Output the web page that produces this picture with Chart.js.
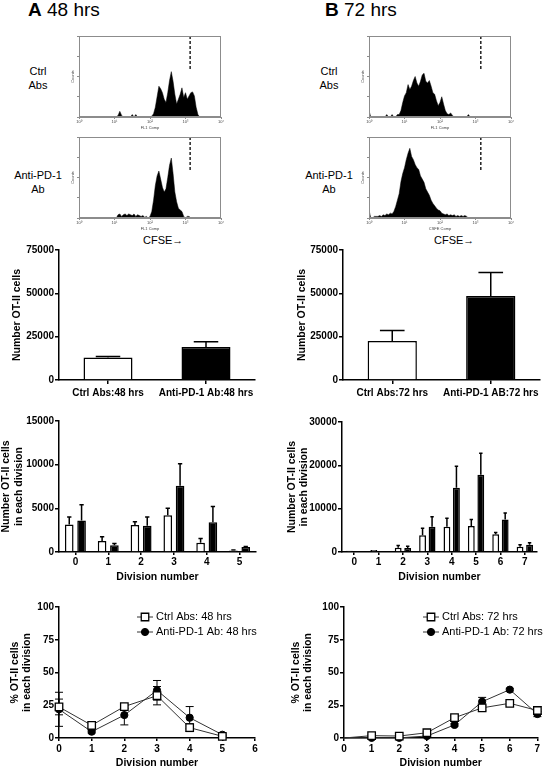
<!DOCTYPE html>
<html>
<head>
<meta charset="utf-8">
<script src="https://cdn.jsdelivr.net/npm/chart.js@4.4.1/dist/chart.umd.min.js"></script>
<style>
  body { margin: 0; background: #fff; font-family: "Liberation Sans", Arial, sans-serif; }
  #page { position: relative; width: 544px; height: 767px; overflow: hidden; }
  canvas, .txt { position: absolute; }
  .txt { color: #000; white-space: nowrap; }
  .side { width: 74px; text-align: center; font-size: 11px; line-height: 14px; }
</style>
</head>
<body>
<div id="page">
  <div class="txt" style="left:28px;top:0px;font-size:19px;line-height:19px"><b>A</b> 48 hrs</div>
  <div class="txt" style="left:325px;top:0px;font-size:19px;line-height:19px"><b>B</b> 72 hrs</div>

  <div class="txt side" style="left:1px;top:64px">Ctrl<br>Abs</div>
  <div class="txt side" style="left:1px;top:168px">Anti-PD-1<br>Ab</div>
  <div class="txt side" style="left:292px;top:64px">Ctrl<br>Abs</div>
  <div class="txt side" style="left:292px;top:168px">Anti-PD-1<br>Ab</div>

  <div class="txt" style="left:143px;top:233px;font-size:11px;line-height:14px">CFSE→</div>
  <div class="txt" style="left:434px;top:233px;font-size:11px;line-height:14px">CFSE→</div>

  <canvas id="histA1" width="170" height="100" style="left:60px;top:30px"></canvas>
  <canvas id="histA2" width="170" height="100" style="left:60px;top:131px"></canvas>
  <canvas id="histB1" width="170" height="100" style="left:350px;top:30px"></canvas>
  <canvas id="histB2" width="170" height="100" style="left:350px;top:131px"></canvas>
  <canvas id="totA" width="272" height="180" style="left:0px;top:230px"></canvas>
  <canvas id="totB" width="272" height="180" style="left:272px;top:230px"></canvas>
  <canvas id="divA" width="272" height="180" style="left:0px;top:410px"></canvas>
  <canvas id="divB" width="272" height="180" style="left:272px;top:410px"></canvas>
  <canvas id="pctA" width="272" height="180" style="left:0px;top:590px"></canvas>
  <canvas id="pctB" width="272" height="180" style="left:272px;top:590px"></canvas>
</div>
<script>
// CFSE histograms, counts in % of axis height, bins of 0.05 decade from 10^0 to 10^4
const BIN = 0.05
const ctrl48Hist = [
  0,0,0,0,0,0,0,0,0,0,  0,0,0,0,0,0,0,0,0,0,
  0,0,2,7,2,0,0,0,0,0,  3,0,3,0,0,0,0,0,0,0,
  0,1,4,12,25,38,35,30,22,18,  30,45,56,44,28,16,22,28,36,24,
  30,22,26,30,31,26,12,3,0,0,  0,0,0,0,0,0,0,0,0,0
]
const anti48Hist = [
  0,0,0,0,0,0,0,0,0,0,  0,0,0,0,0,0,0,0,0,0,
  0,0,4,5,2,4,5,3,5,4,  3,5,2,4,3,2,3,1,2,0,
  2,8,22,40,52,58,48,38,32,36,  50,65,74,55,32,20,12,10,8,2,
  0,2,2,0,0,0,0,0,0,0,  0,0,0,0,0,0,0,0,0,0
]
const ctrl72Hist = [
  8,0,0,0,0,0,0,0,0,0,  3,0,0,3,0,0,3,3,8,18,
  26,30,40,34,38,45,50,42,38,44,  52,54,44,42,45,38,30,28,20,14,
  18,25,16,8,4,3,5,2,0,0,  0,0,0,0,0,0,3,0,0,0,
  0,0,0,0,0,0,0,0,0,0,  0,0,0,0,0,0,0,0,0,0
]
const anti72Hist = [
  10,0,0,2,2,2,3,2,4,3,  5,4,6,5,8,14,22,30,45,55,
  62,72,80,86,76,72,66,62,60,52,  48,44,36,32,28,22,18,15,12,10,
  9,6,5,4,5,3,4,3,4,2,  3,2,3,2,3,2,0,0,0,0,
  0,0,0,0,0,0,0,0,0,0,  0,0,0,0,0,0,0,0,0,0
]
const gate48 = 3.13
const gate72 = 3.15
const gateRange = [100, 58]
const decadeTicks = ['10⁰', '10¹', '10²', '10³', '10⁴']

// total OT-II cells
const totalLabels48 = ['Ctrl Abs:48 hrs', 'Anti-PD-1 Ab:48 hrs']
const totals48 = [13000, 19000]
const totals48Err = [500, 3000]
const totalLabels72 = ['Ctrl Abs:72 hrs', 'Anti-PD-1 AB:72 hrs']
const totals72 = [22500, 48500]
const totals72Err = [6000, 13500]

// cells per division
const divisions48 = ['0', '1', '2', '3', '4', '5']
const ctrl48Div = [3150, 1250, 3100, 4200, 1050, 180]
const ctrl48DivErr = [850, 500, 350, 800, 500, 50]
const anti48Div = [3600, 780, 3000, 7600, 3400, 580]
const anti48DivErr = [1800, 200, 1000, 2500, 1800, 50]

const divisions72 = ['0', '1', '2', '3', '4', '5', '6', '7']
const ctrl72Div = [300, 450, 1000, 3850, 5800, 6000, 4100, 1200]
const ctrl72DivErr = [0, 0, 500, 1650, 2000, 1500, 400, 500]
const anti72Div = [150, 150, 900, 5800, 14800, 17800, 7500, 1700]
const anti72DivErr = [0, 0, 400, 2350, 5000, 5000, 1500, 450]

// % of cells per division
const pctDiv48 = [0, 1, 2, 3, 4, 5]
const ctrl48Pct = [23.7, 9.7, 24, 32.3, 7.9, 1.3]
const ctrl48PctErr = [6, 2, 1.5, 7, 3, 0.5]
const anti48Pct = [21.9, 4.8, 17.5, 36.4, 15.5, 2.5]
const anti48PctErr = [13, 1, 7.5, 7.5, 8.5, 1]

const pctDiv72 = [0, 1, 2, 3, 4, 5, 6, 7]
const ctrl72Pct = [0, 1.8, 1.5, 4, 15.5, 23, 26.5, 21]
const ctrl72PctErr = [0, 0.5, 0.5, 1, 1.5, 2, 1.5, 3]
const anti72Pct = [0, 0.1, 0.1, 1.5, 10, 27.7, 36.9, 18.3]
const anti72PctErr = [0, 0.1, 0.1, 0.5, 1, 3.3, 1, 2]

Chart.defaults.font.family = '"Liberation Sans", Arial, sans-serif'
Chart.defaults.color = '#000'
Chart.defaults.animation = false
Chart.defaults.responsive = false
Chart.defaults.plugins.legend.display = false
Chart.defaults.plugins.tooltip.enabled = false

// pin axis sizes so the plot areas land where the figure has them
function fixSize(w, h) {
  return function (scale) {
    if (w !== undefined) scale.width = w
    if (h !== undefined) scale.height = h
    scale.paddingTop = scale.paddingBottom = scale.paddingLeft = scale.paddingRight = 0
  }
}

const frame = {
  id: 'frame',
  afterDraw(chart) {
    const a = chart.chartArea, ctx = chart.ctx
    ctx.save()
    ctx.strokeStyle = '#8c8c8c'
    ctx.lineWidth = 1
    ctx.strokeRect(a.left + 0.5, a.top + 0.5, a.right - a.left - 1, a.bottom - a.top - 1)
    ctx.restore()
  }
}

const errorBars = {
  id: 'errorBars',
  beforeDatasetsDraw(chart) {
    const ctx = chart.ctx, y = chart.scales.y
    chart.data.datasets.forEach((ds, di) => {
      if (!ds.errors) return
      chart.getDatasetMeta(di).data.forEach((el, i) => {
        const e = ds.errors[i]
        if (!e) return
        const raw = ds.data[i]
        const v = typeof raw === 'object' ? raw.y : raw
        const top = y.getPixelForValue(v + e)
        const low = y.getPixelForValue(ds.bothWays ? v - e : v)
        const half = (ds.capWidth || el.width * 0.5) / 2
        ctx.save()
        ctx.strokeStyle = '#000'
        ctx.lineWidth = ds.errorWidth || 1.5
        ctx.beginPath()
        ctx.moveTo(el.x, low); ctx.lineTo(el.x, top)
        ctx.moveTo(el.x - half, top); ctx.lineTo(el.x + half, top)
        if (ds.bothWays) { ctx.moveTo(el.x - half, low); ctx.lineTo(el.x + half, low) }
        ctx.stroke()
        ctx.restore()
      })
    })
  }
}

// GraphPad-like legend: line with marker, then label
const lineLegend = {
  id: 'lineLegend',
  afterDraw(chart, args, opts) {
    const ctx = chart.ctx
    chart.data.datasets.forEach((ds, i) => {
      const y = opts.y + i * opts.gap
      ctx.save()
      ctx.strokeStyle = ds.borderColor
      ctx.lineWidth = 1
      ctx.beginPath(); ctx.moveTo(opts.x, y); ctx.lineTo(opts.x + opts.len, y); ctx.stroke()
      ctx.fillStyle = ds.pointBackgroundColor
      ctx.strokeStyle = ds.pointBorderColor
      ctx.lineWidth = ds.pointBorderWidth
      Chart.helpers.drawPoint(ctx, {pointStyle: ds.pointStyle, radius: ds.legendRadius, borderWidth: ds.pointBorderWidth, rotation: 0}, opts.x + opts.len / 2, y)
      ctx.fillStyle = '#000'
      ctx.font = '11px "Liberation Sans", Arial, sans-serif'
      ctx.textBaseline = 'middle'
      ctx.fillText(ds.label, opts.x + opts.len + 3, y)
      ctx.restore()
    })
  }
}

function histogram(id, counts, gate, xTitle) {
  new Chart(document.getElementById(id), {
    type: 'line',
    data: {
      datasets: [
        { data: counts.map((c, i) => ({x: i * BIN, y: c})), borderColor: '#000', backgroundColor: '#000',
          borderWidth: 0.5, fill: 'origin', pointRadius: 0, tension: 0 },
        { data: gateRange.map(v => ({x: gate, y: v})), borderColor: '#000', borderWidth: 1.3,
          borderDash: [3, 2], pointRadius: 0, fill: false }
      ]
    },
    options: {
      layout: {padding: {left: 0, top: 6, right: 9, bottom: 0}},
      scales: {
        x: {
          type: 'linear', min: 0, max: 4, afterFit: fixSize(undefined, 13),
          ticks: {stepSize: 1, font: {size: 4}, padding: 0, color: '#444', callback: v => decadeTicks[v]},
          grid: {drawOnChartArea: false, tickLength: 2, color: '#8c8c8c'},
          border: {color: '#8c8c8c'},
          title: {display: true, text: xTitle, font: {size: 4}, color: '#444', padding: 0}
        },
        y: {
          min: 0, max: 100, afterFit: fixSize(19),
          ticks: {display: false, stepSize: 25},
          grid: {drawOnChartArea: false, tickLength: 2, color: '#8c8c8c'},
          border: {color: '#8c8c8c'},
          title: {display: true, text: 'Counts', font: {size: 4}, color: '#444', padding: {top: 10, bottom: 0}}
        }
      }
    },
    plugins: [frame]
  })
}

function yAxis(max, step, width, title, titlePad) {
  return {
    min: 0, max, afterFit: fixSize(width),
    ticks: {stepSize: step, font: {size: 10, weight: 'bold'}, padding: 1, callback: v => String(v)},
    grid: {drawOnChartArea: false, color: '#000', lineWidth: 1.5, tickLength: 4},
    border: {color: '#000', width: 1.5},
    title: {display: true, text: title, font: {size: 10.5, weight: 'bold'}, padding: {top: titlePad, bottom: 0}}
  }
}

function catAxis(height, title, titlePad) {
  return {
    afterFit: fixSize(undefined, height),
    ticks: {font: {size: 10, weight: 'bold'}, padding: title ? 1 : 3, maxRotation: 0, autoSkip: false},
    grid: {offset: false, drawOnChartArea: false, color: '#000', lineWidth: 1.5, tickLength: title ? 3 : 4},
    border: {color: '#000', width: 1.5},
    title: {display: !!title, text: title, font: {size: 10.5, weight: 'bold'}, padding: {top: 0, bottom: titlePad}}
  }
}

function totalChart(id, labels, values, errs, yWidth, padRight, titlePad) {
  new Chart(document.getElementById(id), {
    type: 'bar',
    data: {
      labels,
      datasets: [{ data: values, errors: errs, backgroundColor: ['#fff', '#000'], borderColor: '#000',
        borderWidth: 1.5, barPercentage: 0.5, categoryPercentage: 1 }]
    },
    options: {
      layout: {padding: {left: 0, top: 20, right: padRight, bottom: 0}},
      scales: {
        x: catAxis(30),
        y: yAxis(75000, 25000, yWidth, 'Number OT-II cells', titlePad)
      }
    },
    plugins: [errorBars]
  })
}

function divisionChart(id, labels, ctrl, ctrlErr, anti, antiErr, max, step, yWidth, padTop, padRight, titlePad, catPct, barPct) {
  new Chart(document.getElementById(id), {
    type: 'bar',
    data: {
      labels,
      datasets: [
        { data: ctrl, errors: ctrlErr, backgroundColor: '#fff', borderColor: '#000', borderWidth: 1.5,
          categoryPercentage: catPct, barPercentage: barPct },
        { data: anti, errors: antiErr, backgroundColor: '#000', borderColor: '#000', borderWidth: 1.5,
          categoryPercentage: catPct, barPercentage: barPct }
      ]
    },
    options: {
      layout: {padding: {left: 0, top: padTop, right: padRight, bottom: 0}},
      scales: {
        x: catAxis(38, 'Division number', 6.7),
        y: yAxis(max, step, yWidth, ['Number OT-II cells', 'in each division'], titlePad)
      }
    },
    plugins: [errorBars]
  })
}

function pctChart(id, divs, ctrl, ctrlErr, anti, antiErr, hours, xMax, yWidth, padRight, titlePad, legendX, hideOrigin) {
  const radius = (r) => divs.map((d, i) => (hideOrigin && i === 0 ? 0 : r))
  new Chart(document.getElementById(id), {
    type: 'line',
    data: {
      datasets: [
        { label: 'Ctrl Abs: ' + hours + ' hrs', data: ctrl.map((v, i) => ({x: divs[i], y: v})), errors: ctrlErr,
          bothWays: true, capWidth: 8, errorWidth: 1, borderColor: '#333', borderWidth: 1, tension: 0,
          pointStyle: 'rect', pointRadius: radius(5.3), legendRadius: 5.3, pointBackgroundColor: '#fff',
          pointBorderColor: '#000', pointBorderWidth: 1.3, clip: false },
        { label: 'Anti-PD-1 Ab: ' + hours + ' hrs', data: anti.map((v, i) => ({x: divs[i], y: v})), errors: antiErr,
          bothWays: true, capWidth: 8, errorWidth: 1, borderColor: '#333', borderWidth: 1, tension: 0,
          pointStyle: 'circle', pointRadius: radius(3.6), legendRadius: 3.6, pointBackgroundColor: '#000',
          pointBorderColor: '#000', pointBorderWidth: 1, clip: false }
      ]
    },
    options: {
      layout: {padding: {left: 0, top: 17, right: padRight, bottom: 0}},
      plugins: {lineLegend: {x: legendX, y: 27, gap: 15, len: 16}},
      scales: {
        x: {
          type: 'linear', min: 0, max: xMax, afterFit: fixSize(undefined, 32),
          ticks: {stepSize: 1, font: {size: 10, weight: 'bold'}, padding: 2},
          grid: {drawOnChartArea: false, color: '#000', lineWidth: 1.5, tickLength: 3},
          border: {color: '#000', width: 1.5},
          title: {display: true, text: 'Division number', font: {size: 10.5, weight: 'bold'}, padding: {top: 0, bottom: 0.7}}
        },
        y: yAxis(100, 25, yWidth, ['% OT-II cells', 'in each division'], titlePad)
      }
    },
    plugins: [errorBars, lineLegend]
  })
}

histogram('histA1', ctrl48Hist, gate48, 'FL1 Comp')
histogram('histA2', anti48Hist, gate48, 'FL1 Comp')
histogram('histB1', ctrl72Hist, gate72, 'FL1 Comp')
histogram('histB2', anti72Hist, gate72, 'CSFE Comp')

totalChart('totA', totalLabels48, totals48, totals48Err, 59, 17, 10.7)
totalChart('totB', totalLabels72, totals72, totals72Err, 71, 4, 23.7)

divisionChart('divA', divisions48, ctrl48Div, ctrl48DivErr, anti48Div, anti48DivErr, 15000, 5000, 59, 11, 16, 0, 0.75, 0.7)
divisionChart('divB', divisions72, ctrl72Div, ctrl72DivErr, anti72Div, anti72DivErr, 30000, 10000, 70, 12, 7, 13.7, 0.78, 0.72)

pctChart('pctA', pctDiv48, ctrl48Pct, ctrl48PctErr, anti48Pct, anti48PctErr, 48, 6, 59, 17, 8.7, 137, false)
pctChart('pctB', pctDiv72, ctrl72Pct, ctrl72PctErr, anti72Pct, anti72PctErr, 72, 7, 72, 4, 17.7, 151, true)
</script>
</body>
</html>
